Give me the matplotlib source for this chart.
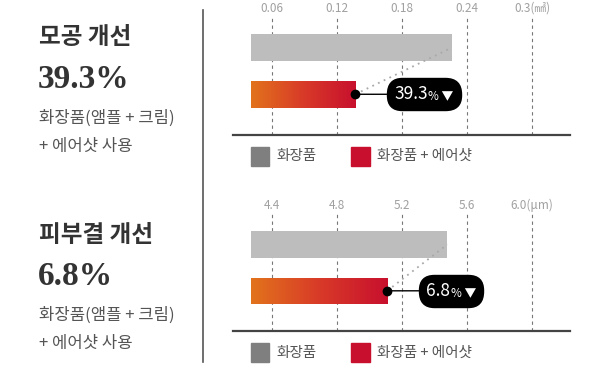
import matplotlib.pyplot as plt
import numpy as np
from matplotlib.colors import LinearSegmentedColormap
from matplotlib.offsetbox import AnnotationBbox, HPacker, TextArea
from matplotlib.patches import Rectangle

plt.rcParams['font.family'] = ['Noto Sans CJK KR', 'DejaVu Sans']

# data
series = ['화장품', '화장품 + 에어샷']
pore_values = [0.226, 0.137]
pore_ticks = [0.06, 0.12, 0.18, 0.24, 0.3]
pore_tick_labels = ['0.06', '0.12', '0.18', '0.24', '0.3(㎟)']
pore_change = '39.3'
skin_values = [5.48, 5.11]
skin_ticks = [4.4, 4.8, 5.2, 5.6, 6.0]
skin_tick_labels = ['4.4', '4.8', '5.2', '5.6', '6.0(μm)']
skin_change = '6.8'

W, H = 600, 389
gray = '#bdbdbd'
legend_gray = '#7f7f7f'
red = '#c8102e'
grad = LinearSegmentedColormap.from_list('g', ['#e2731c', '#d83a28', '#c8102e'])

fig = plt.figure(figsize=(6, 3.89), dpi=100)


def px(x, y):
    return x / W, 1 - y / H


def panel(top, bottom, values, ticks, tick_labels, base, xlim, change):
    l, b = px(232.7, bottom)
    ax = fig.add_axes([l, b, (570 - 232.7) / W, (bottom - top) / H])
    ypos = np.arange(len(values))
    h = 0.573
    ax.barh(ypos[0], values[0] - base, left=base, height=h, color=gray)
    bar = ax.barh(ypos[1], values[1] - base, left=base, height=h, color='none')[0]
    img = ax.imshow(np.linspace(0, 1, 256).reshape(1, -1), cmap=grad, aspect='auto',
                    extent=(base, values[1], ypos[1] + h / 2, ypos[1] - h / 2), zorder=2)
    img.set_clip_path(bar)
    for t in ticks:
        ax.axvline(t, color='#777777', lw=0.8, ls=(0, (3, 3)), zorder=0)
    ax.plot([values[1], values[0]], [ypos[1], ypos[0]], color='#a8a8a8', lw=1.3,
            ls=(0, (1, 2.5)), zorder=3)
    ax.plot([values[1]], [ypos[1]], 'o', color='black', ms=6, zorder=5)

    # pill label
    parts = HPacker(children=[
        TextArea(change, textprops=dict(color='white', fontsize=12.5)),
        TextArea('% ▼', textprops=dict(color='white', fontsize=8.5)),
    ], align='baseline', pad=0, sep=0.5)
    ab = AnnotationBbox(parts, (values[1], ypos[1]), xybox=(28, 0), xycoords='data',
                        boxcoords='offset points', box_alignment=(0, 0.5), pad=0.45,
                        bboxprops=dict(boxstyle='round,pad=0.5,rounding_size=1.1',
                                       fc='black', ec='black'),
                        arrowprops=dict(arrowstyle='-', color='black', lw=1,
                                        shrinkA=0, shrinkB=0),
                        zorder=6, annotation_clip=False)
    ab.patch.set_boxstyle('round', pad=0.5, rounding_size=1.1)
    ax.add_artist(ab)

    ax.set_xlim(*xlim)
    ax.set_ylim(1.867, -0.70)
    ax.set_xticks(ticks)
    ax.set_xticklabels(tick_labels, fontsize=8.5, color='#a0a0a0')
    ax.xaxis.tick_top()
    ax.tick_params(axis='x', length=0, pad=0)
    ax.set_yticks([])
    for s in ['top', 'left', 'right']:
        ax.spines[s].set_visible(False)
    ax.spines['bottom'].set_color('#444444')
    ax.spines['bottom'].set_linewidth(1.6)
    ax.patch.set_alpha(0)

    # legend
    ly = bottom + 21.5
    for x0, c, label in [(250.7, legend_gray, series[0]), (351, red, series[1])]:
        x, y = px(x0, ly + 9.5)
        fig.add_artist(Rectangle((x, y), 18.5 / W, 19 / H, color=c, transform=fig.transFigure))
        tx, ty = px(x0 + 26, ly)
        fig.text(tx, ty, label, fontsize=10.5, color='#555555', va='center', ha='left')


panel(15, 134.7, pore_values, pore_ticks, pore_tick_labels, 0.0406, (0.024, 0.335), pore_change)
panel(212, 331, skin_values, skin_ticks, skin_tick_labels, 4.27, (4.16, 6.234), skin_change)

# divider
fig.add_artist(plt.Line2D([202.7 / W] * 2, [1 - 10 / H, 1 - 362 / H], color='#555555', lw=1.2))

# left text blocks
for y0, title, pct in [(0, '모공 개선', pore_change), (197.5, '피부결 개선', skin_change)]:
    fig.text(*px(39, y0 + 37), title, fontsize=17, fontweight='bold', color='#333333', va='center')
    fig.text(*px(38, y0 + 79), pct + '%', fontsize=24, fontweight='bold', color='#333333',
             va='center', family='Liberation Serif')
    fig.text(*px(39, y0 + 118), '화장품(앰플 + 크림)', fontsize=12, color='#555555', va='center')
    fig.text(*px(39, y0 + 146), '+ 에어샷 사용', fontsize=12, color='#555555', va='center')

fig.savefig('out.png', dpi=100)
